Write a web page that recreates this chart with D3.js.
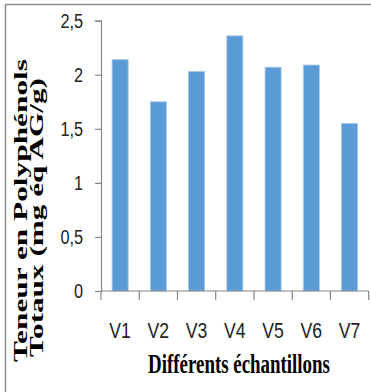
<!DOCTYPE html>
<html>
<head>
<meta charset="utf-8">
<script src="https://cdn.jsdelivr.net/npm/d3@7"></script>
<style>
  html, body { margin: 0; padding: 0; background: #fff; }
  svg { display: block; }
</style>
</head>
<body>
<svg id="chart" width="371" height="392"></svg>
<script>
// Samples and their total polyphenol content (mg GAE/g)
const categories = ["V1", "V2", "V3", "V4", "V5", "V6", "V7"];
const values = [2.14, 1.75, 2.03, 2.36, 2.07, 2.09, 1.55];
const yTicks = [0, 0.5, 1, 1.5, 2, 2.5];
const yTickLabels = ["0", "0,5", "1", "1,5", "2", "2,5"];

const svg = d3.select("#chart");
const plot = { left: 101, right: 368.7, top: 20.7, bottom: 291 };

const x = d3.scaleBand().domain(categories).range([plot.left, plot.right]).padding(0);
const y = d3.scaleLinear().domain([0, 2.5]).range([plot.bottom, plot.top]);

// outer frame (top and left edges)
svg.append("path")
  .attr("d", "M5.5,392 V4.5 H371")
  .attr("fill", "none")
  .attr("stroke", "#8e8e8e")
  .attr("stroke-width", 1.5);

const axisColor = "#868686";
const tickFont = "'Liberation Sans', Arial, sans-serif";

// bars
const barW = x.bandwidth() * 0.42;
svg.append("g").selectAll("rect")
  .data(values)
  .join("rect")
  .attr("x", (d, i) => x(categories[i]) + (x.bandwidth() - barW) / 2)
  .attr("y", d => y(d))
  .attr("width", barW)
  .attr("height", d => y(0) - y(d))
  .attr("fill", "#5b9bd5")
  .attr("stroke", "#a9c9ec")
  .attr("stroke-width", 0.8);

// y axis
const yAxis = svg.append("g")
  .attr("transform", `translate(${plot.left},0)`)
  .call(d3.axisLeft(y).tickValues(yTicks)
    .tickFormat((d, i) => yTickLabels[i])
    .tickSize(6).tickSizeOuter(6).tickPadding(18));
yAxis.select(".domain").attr("stroke", axisColor).attr("stroke-width", 1.2);
yAxis.selectAll(".tick line").attr("stroke", axisColor).attr("stroke-width", 1.2);
yAxis.selectAll(".tick text")
  .attr("x", 0)
  .attr("dy", "0.36em")
  .attr("transform", "translate(-18,0) scale(0.88,1.05)")
  .attr("font-family", tickFont)
  .attr("font-size", 18.5)
  .attr("fill", "#222");

// x axis: ticks at category boundaries
const xg = svg.append("g").attr("transform", `translate(0,${plot.bottom})`);
xg.append("line")
  .attr("x1", plot.left).attr("x2", plot.right)
  .attr("stroke", axisColor).attr("stroke-width", 1.2);
const bounds = categories.map(c => x(c)).concat([x(categories[categories.length - 1]) + x.bandwidth()]);
xg.selectAll("line.tk")
  .data(bounds)
  .join("line")
  .attr("class", "tk")
  .attr("x1", d => d).attr("x2", d => d)
  .attr("y1", 0).attr("y2", 9)
  .attr("stroke", axisColor).attr("stroke-width", 1.2);
xg.selectAll("text")
  .data(categories)
  .join("text")
  .attr("transform", d => `translate(${x(d) + x.bandwidth() / 2},46.5) scale(0.8,1)`)
  .attr("text-anchor", "middle")
  .attr("font-family", tickFont)
  .attr("font-size", 22)
  .attr("fill", "#222")
  .text(d => d);

// axis titles: condensed bold serif, squeezed to the measured widths
const titleFont = "'Liberation Serif', 'Times New Roman', serif";
function fitText(sel, width) {
  const w = sel.node().getComputedTextLength();
  return width / w;
}

const xTitle = svg.append("text")
  .attr("text-anchor", "middle")
  .attr("font-family", titleFont)
  .attr("font-weight", "bold")
  .attr("font-size", 27)
  .attr("fill", "#000")
  .text("Différents échantillons");
xTitle.attr("transform", `translate(239,373) scale(${fitText(xTitle, 182)},1)`);

[
  { text: "Teneur en Polyphénols", cx: 27, cy: 210.5, len: 303 },
  { text: "Totaux (mg éq AG/g)", cx: 43, cy: 217.5, len: 279 }
].forEach(l => {
  const t = svg.append("text")
    .attr("text-anchor", "middle")
    .attr("font-family", titleFont)
    .attr("font-weight", "bold")
    .attr("font-size", 18)
    .attr("fill", "#000")
    .text(l.text);
  t.attr("transform", `translate(${l.cx},${l.cy}) rotate(-90) scale(${fitText(t, l.len)},1)`);
});
</script>
</body>
</html>
